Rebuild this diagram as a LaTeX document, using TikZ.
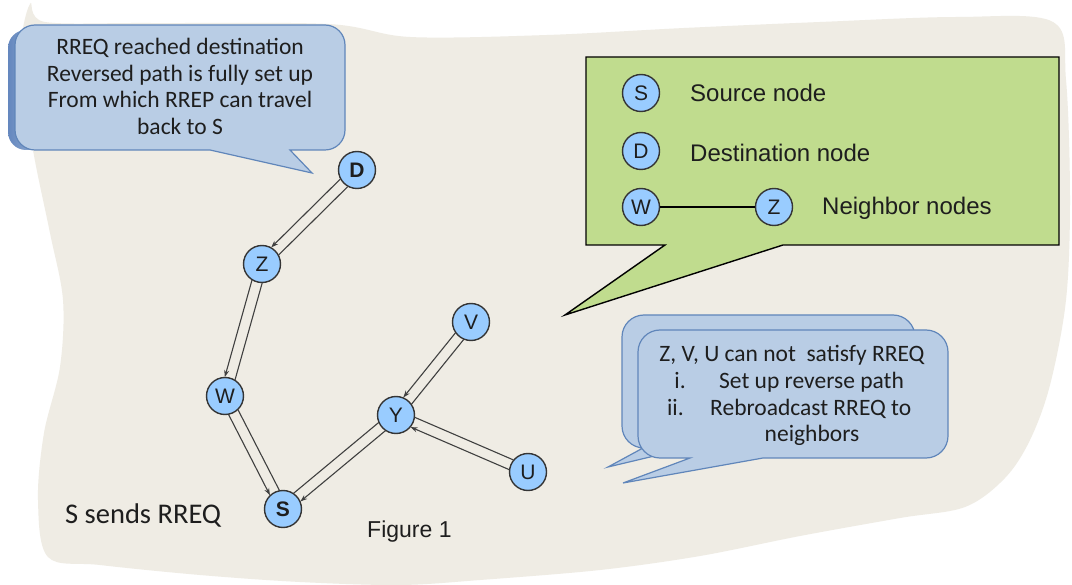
\documentclass[tikz,border=0pt]{standalone}
\usepackage{fontspec}
\setmainfont{Carlito}
\newfontfamily\arialfont{Liberation Sans}
\usetikzlibrary{calc,arrows.meta}

\definecolor{paper}{RGB}{239,236,228}
\definecolor{bubble}{RGB}{185,205,229}
\definecolor{bubbleedge}{RGB}{96,134,186}
\definecolor{bubbleshade}{RGB}{100,135,190}
\definecolor{legendgreen}{RGB}{192,220,142}
\definecolor{nodeblue}{RGB}{153,204,255}
\definecolor{ink}{RGB}{30,30,30}

\tikzset{
  peer/.style={circle, draw=ink!90, line width=1.4pt, fill=nodeblue,
    minimum size=37pt, inner sep=0pt,
    font=\arialfont\fontsize{21}{21}\selectfont, text=ink},
  link/.style={draw=ink!85, line width=1.1pt},
  linkarrow/.style={link, -{Stealth[length=7pt,width=5pt]}},
  bubblebox/.style={fill=bubble, draw=bubbleedge, line width=1.2pt},
  greenbox/.style={fill=legendgreen, draw=black, line width=1.4pt},
  bubbletext/.style={font=\fontsize{23.5}{27}\selectfont, text=ink,
    anchor=base, inner sep=0pt},
  legendtext/.style={font=\arialfont\fontsize{24}{24}\selectfont, text=ink,
    anchor=base west, inner sep=0pt},
}

% rounded speech bubble: left, top, right, bottom, radius,
% tail base from x=#6 to x=#7 on the bottom edge, tail tip (#8,#9)
\newcommand\bubblepath[9]{%
  (#1+#5,#2) -- (#3-#5,#2) arc[start angle=-90,end angle=0,radius=#5]
  -- (#3,#4-#5) arc[start angle=0,end angle=90,radius=#5]
  -- (#7,#4) -- (#8,#9) -- (#6,#4)
  -- (#1+#5,#4) arc[start angle=90,end angle=180,radius=#5]
  -- (#1,#2+#5) arc[start angle=180,end angle=270,radius=#5] -- cycle}

% two parallel links between peers; the first one carries the arrow
\newcommand\linkalong{18.2pt}
\newcommand\linkgap{5.3pt}
\newcommand\linkpair[4]{%
  \draw[linkarrow] ($(#1)!\linkalong!(#2)!\linkgap!#3:(#2)$)
    -- ($(#2)!\linkalong!(#1)!\linkgap!#4:(#1)$);
  \draw[link] ($(#1)!\linkalong!(#2)!\linkgap!#4:(#2)$)
    -- ($(#2)!\linkalong!(#1)!\linkgap!#3:(#1)$);
}

\begin{document}
\begin{tikzpicture}[x=1pt,y=-1pt]
\useasboundingbox (0,0) rectangle (1072,585);
\fill[white] (0,0) rectangle (1072,585);

% torn paper sheet
\fill[paper] plot[smooth cycle, tension=0.55] coordinates {
  (30,4) (45,22) (150,23) (328,24) (410,37) (547,35) (684,28) (820,22)
  (957,17) (1053,22) (1066,80) (1070,200) (1066,300) (1050,385)
  (1030,440) (1005,478) (965,507) (900,518) (800,536) (700,556)
  (600,570) (480,580) (400,585) (300,582) (200,575) (100,565)
  (48,557) (38,500) (44,433) (60,367) (63,300) (50,233) (33,150) (20,60)};

% upper-left bubble with its shaded left rim
\shade[left color=bubbleshade, right color=bubble, rounded corners=18pt]
  (8,30) rectangle (60,150);
\draw[bubblebox] \bubblepath{15}{25}{345}{150}{20}{210}{290}{312}{173};
\node[bubbletext] (t1) at (180,55) {RREQ reached destination};
\node[bubbletext] (t2) at (180,82) {Reversed path is fully set up};
\node[bubbletext] (t3) at (180,108) {From which RREP can travel};
\node[bubbletext] (t4) at (180,135) {back to S};

% legend box
\draw[greenbox] (586,57) -- (1059,57) -- (1059,245) -- (783,245)
  -- (565,315) -- (665,245) -- (586,245) -- cycle;
\node[peer] (ls) at (641,93) {S};
\node[peer] (ld) at (641,151) {D};
\node[peer] (lw) at (641,207) {W};
\node[peer] (lz) at (774,207) {Z};
\draw[line width=1.2pt, black] (lw) -- (lz);
\node[legendtext] (lst) at (690,102) {Source node};
\node[legendtext] (ldt) at (690,162) {Destination node};
\node[legendtext] (lnt) at (822,215) {Neighbor nodes};

% lower-right bubbles
\draw[bubblebox] \bubblepath{622}{315}{915}{448}{22}{643}{688}{608}{467};
\draw[bubblebox] \bubblepath{638}{330}{948}{458}{22}{690}{763}{623}{483};
\node[bubbletext] (u1) at (792,362) {Z, V, U can not~ satisfy RREQ};
\node[bubbletext, anchor=base east] (u2a) at (686,389) {i.};
\node[bubbletext, anchor=base west] (u2b) at (719,389) {Set up reverse path};
\node[bubbletext, anchor=base east] (u3a) at (684,416) {ii.};
\node[bubbletext, anchor=base west] (u3b) at (710,416) {Rebroadcast RREQ to};
\node[bubbletext] (u4) at (812,442) {neighbors};

% network
\node[peer, font=\arialfont\bfseries\fontsize{21}{21}\selectfont] (D) at (357,170) {D};
\node[peer] (Z) at (262,264) {Z};
\node[peer] (W) at (225,396) {W};
\node[peer, font=\arialfont\bfseries\fontsize{21}{21}\selectfont] (S) at (283,509) {S};
\node[peer] (Y) at (396,415) {Y};
\node[peer] (V) at (471,322) {V};
\node[peer] (U) at (528,472) {U};

\linkpair{D}{Z}{-90}{90}
\linkpair{Z}{W}{-90}{90}
\linkpair{W}{S}{-90}{90}
\linkpair{Y}{S}{90}{-90}
\linkpair{V}{Y}{-90}{90}
\linkpair{U}{Y}{90}{-90}

\node[font=\fontsize{28.5}{30}\selectfont, text=ink, anchor=base west, inner sep=0pt]
  (cap1) at (65,523) {S sends RREQ};
\node[font=\arialfont\fontsize{23}{23}\selectfont, text=ink, anchor=base west, inner sep=0pt]
  (cap2) at (367,537) {Figure 1};
\end{tikzpicture}
\end{document}
